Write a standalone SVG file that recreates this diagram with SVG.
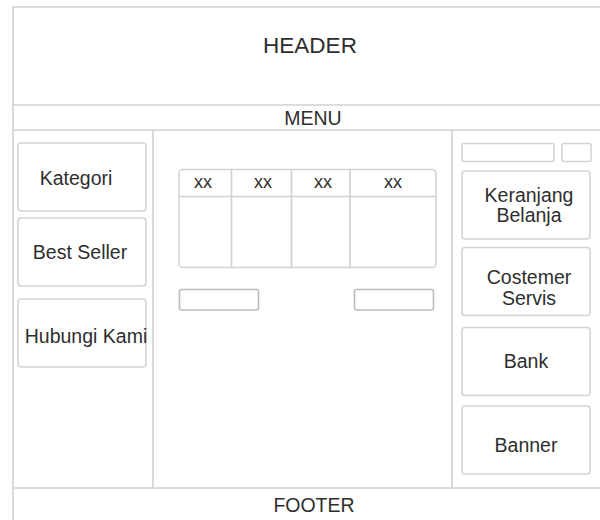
<svg xmlns="http://www.w3.org/2000/svg" width="600" height="520" viewBox="0 0 600 520">
<style>
.ln{stroke:#d0d0d0;stroke-width:1.6;fill:none}
.bx{fill:#fff;stroke:#d4d4d4;stroke-width:1.6}
.sb{fill:#fff;stroke:#bbbbbb;stroke-width:1.6}
.t{font-family:"Liberation Sans",Arial,sans-serif;font-size:19.5px;fill:#2e2e2e;text-anchor:middle}
.x{font-family:"Liberation Sans",Arial,sans-serif;font-size:18px;fill:#2e2e2e;text-anchor:middle}
</style>
<rect x="0" y="0" width="600" height="520" fill="#fff"/>
<g id="frame">
<path class="ln" d="M13,520 V7 H600"/>
<line class="ln" x1="13" y1="105" x2="600" y2="105"/>
<line class="ln" x1="13" y1="130" x2="600" y2="130"/>
<line class="ln" x1="153" y1="130" x2="153" y2="488"/>
<line class="ln" x1="452" y1="130" x2="452" y2="488"/>
<line class="ln" x1="13" y1="488" x2="600" y2="488"/>
</g>
<g id="header"><text class="t" x="310" y="53" style="font-size:22.5px">HEADER</text></g>
<g id="menu"><text class="t" x="313" y="125">MENU</text></g>
<g id="footer"><text class="t" x="314" y="512">FOOTER</text></g>
<g id="kategori"><rect class="bx" x="18" y="143" width="128" height="68" rx="3"/><text class="t" x="76" y="185">Kategori</text></g>
<g id="bestseller"><rect class="bx" x="18" y="218" width="128" height="68" rx="3"/><text class="t" x="80" y="259">Best Seller</text></g>
<g id="hubungi"><rect class="bx" x="18" y="299" width="128" height="68" rx="3"/><text class="t" x="86" y="343">Hubungi Kami</text></g>
<g id="table">
<rect class="bx" x="179" y="169.5" width="257" height="98" rx="4"/>
<line class="ln" x1="179" y1="196.5" x2="436" y2="196.5"/>
<line class="ln" x1="231.5" y1="169.5" x2="231.5" y2="267.5"/>
<line class="ln" x1="291.5" y1="169.5" x2="291.5" y2="267.5"/>
<line class="ln" x1="350" y1="169.5" x2="350" y2="267.5"/>
<text class="x" x="203" y="188">xx</text>
<text class="x" x="263" y="188">xx</text>
<text class="x" x="323" y="188">xx</text>
<text class="x" x="393" y="188">xx</text>
</g>
<g id="btn-left"><rect class="sb" x="179.5" y="289.5" width="79" height="20.5" rx="2"/></g>
<g id="btn-right"><rect class="sb" x="354.5" y="289.5" width="79" height="20.5" rx="2"/></g>
<g id="search"><rect class="bx" x="462" y="143.5" width="92" height="18" rx="2"/></g>
<g id="search-btn"><rect class="bx" x="562" y="143.5" width="29" height="18" rx="2"/></g>
<g id="keranjang"><rect class="bx" x="462" y="171" width="128" height="68" rx="3"/><text class="t" x="529" y="202">Keranjang</text><text class="t" x="529" y="222">Belanja</text></g>
<g id="costemer"><rect class="bx" x="462" y="247.5" width="128" height="68" rx="3"/><text class="t" x="529" y="284">Costemer</text><text class="t" x="529" y="305">Servis</text></g>
<g id="bank"><rect class="bx" x="462" y="327.5" width="128" height="68" rx="3"/><text class="t" x="526" y="368">Bank</text></g>
<g id="banner"><rect class="bx" x="462" y="406" width="128" height="68" rx="3"/><text class="t" x="526" y="452">Banner</text></g>
</svg>
